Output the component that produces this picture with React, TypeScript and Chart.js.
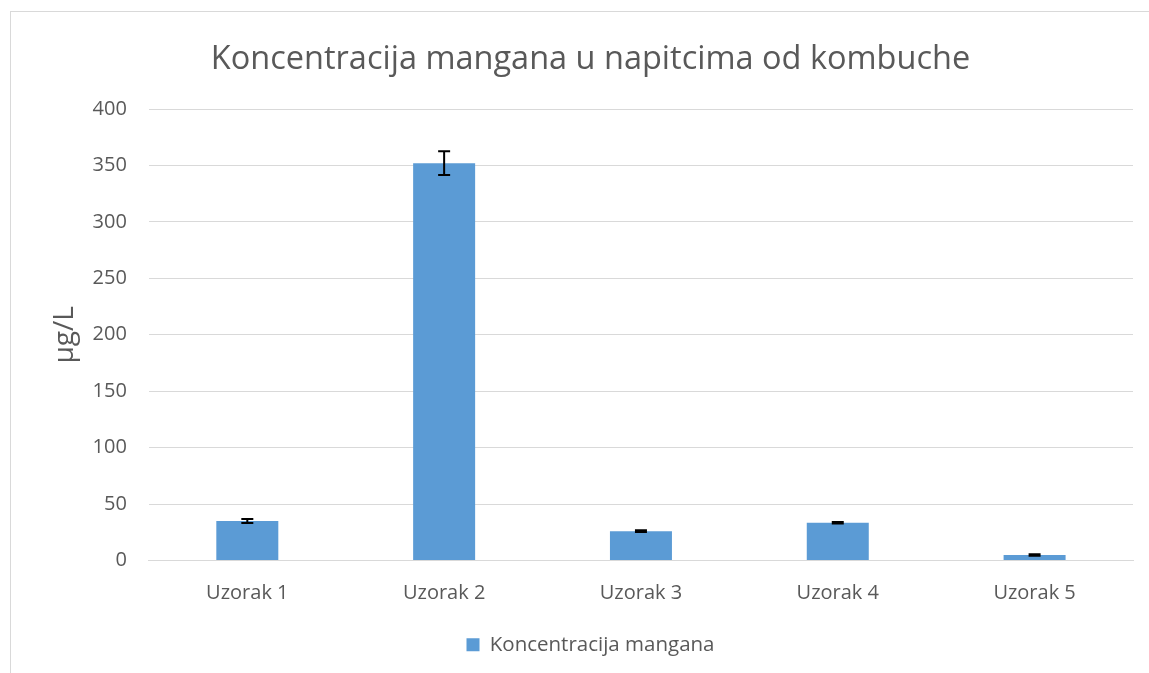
import React, { useEffect, useRef } from "react";
import { Chart, registerables } from "chart.js";

Chart.register(...registerables);

const categories = ["Uzorak 1", "Uzorak 2", "Uzorak 3", "Uzorak 4", "Uzorak 5"];
const values = [35, 352, 26, 33.5, 4.8];
const errors = [1.8, 10.5, 0.7, 0.7, 0.7];
const yTicks = [0, 50, 100, 150, 200, 250, 300, 350, 400];
const seriesName = "Koncentracija mangana";
const titleText = "Koncentracija mangana u napitcima od kombuche";
const yTitle = "µg/L";

const FONT = "'Open Sans', 'DejaVu Sans', sans-serif";
const GREY = "#595959";

const errorBarPlugin = {
  id: "errorBars",
  afterDatasetsDraw(chart: any) {
    const ctx = chart.ctx;
    const meta = chart.getDatasetMeta(0);
    const yScale = chart.scales.y;
    ctx.save();
    ctx.strokeStyle = "#000000";
    ctx.lineWidth = 2;
    meta.data.forEach((bar: any, i: number) => {
      const v = values[i];
      const e = errors[i];
      const x = bar.x;
      const yTop = yScale.getPixelForValue(v + e);
      const yBot = yScale.getPixelForValue(v - e);
      const cap = 6;
      ctx.beginPath();
      ctx.moveTo(x, yTop);
      ctx.lineTo(x, yBot);
      ctx.moveTo(x - cap, yTop);
      ctx.lineTo(x + cap, yTop);
      ctx.moveTo(x - cap, yBot);
      ctx.lineTo(x + cap, yBot);
      ctx.stroke();
    });
    ctx.restore();
  },
};

export default function App() {
  const ref = useRef<HTMLCanvasElement | null>(null);
  useEffect(() => {
    if (!ref.current) return;
    const chart = new Chart(ref.current, {
      type: "bar",
      data: {
        labels: categories,
        datasets: [
          {
            label: seriesName,
            data: values,
            backgroundColor: "#5B9BD5",
            borderWidth: 0,
            barPercentage: 1,
            categoryPercentage: 0.315,
          },
        ],
      },
      options: {
        animation: false,
        responsive: false,
        maintainAspectRatio: false,
        layout: { padding: { left: 48, right: 16, top: 40, bottom: 8 } },
        plugins: {
          title: {
            display: true,
            text: titleText,
            color: GREY,
            font: { family: FONT, size: 32.5, weight: "normal" as any },
            padding: { top: 0, bottom: 30 },
          },
          legend: {
            display: true,
            position: "bottom",
            labels: {
              color: GREY,
              font: { family: FONT, size: 20.5 },
              boxWidth: 13,
              boxHeight: 13,
              padding: 10,
            },
          },
          tooltip: { enabled: false },
        },
        scales: {
          x: {
            grid: { display: false },
            border: { display: true, color: "#d9d9d9", width: 1 },
            ticks: {
              color: GREY,
              font: { family: FONT, size: 20 },
              padding: 13,
            },
            afterFit(scale: any) {
              scale.height += 6;
            },
          },
          y: {
            min: 0,
            max: 400,
            afterBuildTicks(scale: any) {
              scale.ticks = yTicks.map((v) => ({ value: v }));
            },
            grid: { color: "#d9d9d9", lineWidth: 1, drawTicks: false },
            border: { display: false },
            ticks: {
              color: GREY,
              font: { family: FONT, size: 20 },
              padding: 22,
            },
            title: {
              display: true,
              text: yTitle,
              color: GREY,
              font: { family: FONT, size: 28 },
              padding: { top: 0, bottom: -11 },
            },
          },
        },
      },
      plugins: [errorBarPlugin],
    });
    return () => chart.destroy();
  }, []);
  return (
    <div style={{ position: "fixed", left: 0, top: 0, width: 1149, height: 673, background: "#fff" }}>
      <div
        style={{
          position: "absolute",
          left: 10,
          top: 11,
          width: 1200,
          height: 700,
          border: "1px solid #d9d9d9",
        }}
      />
      <canvas ref={ref} width={1149} height={673} style={{ position: "absolute", left: 0, top: 0 }} />
    </div>
  );
}
